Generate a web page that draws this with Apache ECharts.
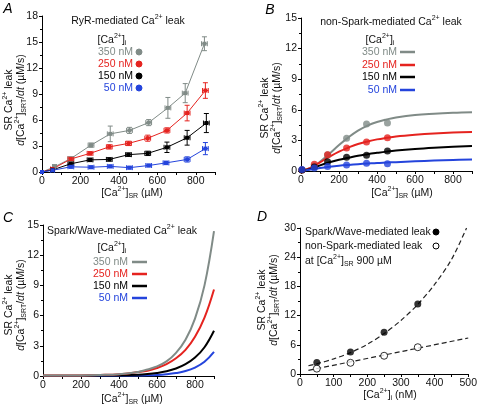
<!DOCTYPE html>
<html><head><meta charset="utf-8">
<script src="https://cdn.jsdelivr.net/npm/echarts@6/dist/echarts.min.js"></script>
<style>html,body{margin:0;padding:0;background:#fff}#c{width:480px;height:407px}</style>
</head><body><div id="c"></div>
<script>
// ---------- Panel A data (RyR-mediated leak) ----------
const aGrayX = [0, 65, 150, 255, 355, 455, 555, 655, 745, 845];
const aGrayY = [0, 0.6, 1.55, 3.1, 4.4, 4.8, 5.7, 7.4, 9.1, 14.8];
const aGrayE = [0, 0.25, 0.2, 0.25, 0.9, 0.35, 0.35, 1.2, 1.1, 0.8];
const aRedX = [0, 55, 150, 250, 350, 450, 550, 650, 755, 850];
const aRedY = [0, 0.35, 1.5, 2.15, 2.9, 3.3, 3.9, 4.8, 6.8, 9.4];
const aRedE = [0, 0.15, 0.2, 0.2, 0.25, 0.25, 0.35, 0.3, 0.9, 0.9];
const aBlackX = [0, 55, 150, 250, 350, 450, 550, 650, 755, 855];
const aBlackY = [0, 0.25, 0.95, 1.4, 1.45, 2.0, 2.15, 2.85, 3.95, 5.65];
const aBlackE = [0, 0.15, 0.2, 0.2, 0.2, 0.2, 0.25, 0.6, 0.85, 1.1];
const aBlueX = [0, 55, 150, 255, 355, 455, 555, 645, 755, 850];
const aBlueY = [0, 0.2, 0.6, 0.55, 0.65, 0.5, 0.75, 1.05, 1.45, 2.7];
const aBlueE = [0, 0.1, 0.15, 0.15, 0.15, 0.15, 0.15, 0.2, 0.3, 0.7];
const aXErr = [0, 10, 15, 15, 15, 15, 15, 15, 15, 15];

// ---------- Panel B data (non-Spark leak) ----------
const bPtX = [5, 70, 140, 240, 345, 455];
const bGrayPts = [0.1, 0.5, 1.6, 3.2, 4.6, 4.7];
const bRedPts = [0.1, 0.65, 1.6, 2.25, 2.85, 3.25];
const bBlackPts = [0.1, 0.4, 0.9, 1.35, 1.55, 1.95];
const bBluePts = [0.15, 0.3, 0.45, 0.6, 0.75, 0.7];
const bFitX = [0, 50, 100, 150, 200, 250, 300, 350, 400, 450, 500, 600, 700, 800, 900];
const bGrayFit = [0, 0.3, 0.9, 1.7, 2.55, 3.3, 3.95, 4.45, 4.8, 5.05, 5.25, 5.5, 5.62, 5.7, 5.75];
const bRedFit = [0, 0.3, 0.85, 1.4, 1.9, 2.3, 2.65, 2.9, 3.1, 3.25, 3.38, 3.55, 3.68, 3.77, 3.82];
const bBlackFit = [0, 0.2, 0.55, 0.85, 1.1, 1.3, 1.5, 1.65, 1.78, 1.9, 2.0, 2.15, 2.27, 2.37, 2.45];
const bBlueFit = [0, 0.15, 0.3, 0.42, 0.52, 0.6, 0.67, 0.73, 0.79, 0.83, 0.87, 0.95, 1.02, 1.08, 1.13];

// ---------- Panel C data (Spark/Wave leak) ----------
const cX = [0, 100, 200, 300, 400, 500, 550, 600, 650, 700, 750, 800, 850, 900];
const cGray = [0.05, 0.05, 0.06, 0.1, 0.18, 0.4, 0.65, 0.95, 1.45, 2.3, 3.6, 5.7, 9.0, 14.4];
const cRed = [0.05, 0.05, 0.06, 0.1, 0.18, 0.39, 0.53, 0.8, 1.18, 1.76, 2.6, 3.9, 5.8, 8.6];
const cBlack = [0.02, 0.02, 0.03, 0.04, 0.06, 0.12, 0.19, 0.3, 0.47, 0.74, 1.17, 1.83, 2.86, 4.5];
const cBlue = [0.01, 0.01, 0.01, 0.02, 0.03, 0.05, 0.07, 0.1, 0.17, 0.29, 0.49, 0.84, 1.41, 2.4];

// ---------- Panel D data ----------
const dX = [50, 150, 250, 350];
const dSpark = [2.35, 4.5, 8.6, 14.4];
const dNonSpark = [1.1, 2.3, 3.75, 5.5];
const dSparkFitX = [25, 50, 100, 150, 200, 250, 300, 350, 400, 450, 495];
const dSparkFitY = [1.7, 2.1, 3.1, 4.4, 6.1, 8.3, 11.0, 14.3, 18.4, 23.5, 30];
const dNonFitX = [25, 500];
const dNonFitY = [0.75, 7.4];

const GRAY = '#808b87', RED = '#e5231f', BLACK = '#000000', BLUE = '#2444dc';
const FONT = 'Liberation Sans, Arial, sans-serif';
const zip = (xs, ys) => xs.map((x, i) => [x, ys[i]]);

const chart = echarts.init(document.getElementById('c'), null, {renderer: 'canvas'});

const grids = [
  {left: 42, top: 16, width: 173, height: 156},
  {left: 301, top: 18, width: 171, height: 153},
  {left: 43, top: 225, width: 171, height: 151},
  {left: 300, top: 228, width: 172, height: 146}
];

function xAxis(i, max, interval, labelEvery) {
  return {
    type: 'value', gridIndex: i, min: 0, max: max, interval: interval,
    axisLine: {lineStyle: {color: '#000', width: 1}},
    axisTick: {show: true, inside: false, length: 3, lineStyle: {color: '#000'}},
    axisLabel: {color: '#111', fontSize: 10.5, fontFamily: FONT, margin: 4,
      formatter: v => (Math.round(v) % labelEvery === 0 ? String(v) : '')},
    splitLine: {show: false}
  };
}
function yAxis(i, max, interval) {
  return {
    type: 'value', gridIndex: i, min: 0, max: max, interval: interval,
    axisLine: {show: true, lineStyle: {color: '#000', width: 1}},
    axisTick: {show: true, inside: false, length: 3, lineStyle: {color: '#000'}},
    minorTick: {show: true, splitNumber: 2, length: 2, lineStyle: {color: '#000'}},
    axisLabel: {color: '#111', fontSize: 10.5, fontFamily: FONT, margin: 4},
    splitLine: {show: false}
  };
}

function errSeries(xs, ys, es, xe, color) {
  const data = xs.map((x, i) => [x, ys[i], es[i], xe[i]]).filter(d => d[2] > 0 || d[3] > 0);
  return {
    type: 'custom', xAxisIndex: 0, yAxisIndex: 0, z: 3, silent: true,
    data: data,
    renderItem: function (params, api) {
      const x = api.value(0), y = api.value(1), e = api.value(2), w = api.value(3);
      const t = api.coord([x, y + e]), b = api.coord([x, y - e]);
      const l = api.coord([x - w, y]), r = api.coord([x + w, y]);
      const cap = 2.5;
      const st = {stroke: color, lineWidth: 1, fill: null};
      const mk = (x1, y1, x2, y2) => ({type: 'line', shape: {x1, y1, x2, y2}, style: st});
      return {type: 'group', children: [
        mk(t[0], t[1], b[0], b[1]),
        mk(t[0] - cap, t[1], t[0] + cap, t[1]),
        mk(b[0] - cap, b[1], b[0] + cap, b[1]),
        mk(l[0], l[1], r[0], r[1]),
        mk(l[0], l[1] - cap, l[0], l[1] + cap),
        mk(r[0], r[1] - cap, r[0], r[1] + cap)
      ]};
    }
  };
}
function lineA(xs, ys, color) {
  return {type: 'line', xAxisIndex: 0, yAxisIndex: 0, data: zip(xs, ys), z: 4,
    symbol: 'rect', symbolSize: 4, showSymbol: true,
    lineStyle: {color: color, width: 1}, itemStyle: {color: color}};
}
function pointsB(ys, color) {
  return {type: 'scatter', xAxisIndex: 1, yAxisIndex: 1, data: zip(bPtX, ys), z: 5,
    symbol: 'circle', symbolSize: 7, itemStyle: {color: color}};
}
function fitLine(idx, xs, ys, color, w) {
  return {type: 'line', xAxisIndex: idx, yAxisIndex: idx, data: zip(xs, ys), smooth: 0.4,
    showSymbol: false, symbol: 'none', z: 4, lineStyle: {color: color, width: w}};
}

const rich = {
  sup: {fontSize: 7, verticalAlign: 'top', lineHeight: 14, fontFamily: FONT},
  sub: {fontSize: 7, verticalAlign: 'bottom', lineHeight: 14, fontFamily: FONT},
  it: {fontStyle: 'italic', fontSize: 10.5, lineHeight: 14, fontFamily: FONT}
};
function txt(x, y, text, opts) {
  opts = opts || {};
  const r = {};
  for (const k in rich) r[k] = Object.assign({}, rich[k], opts.fill ? {color: opts.fill} : {});
  return {type: 'text', x: x, y: y, rotation: opts.rot || 0, z: 100, silent: true,
    style: {text: text, rich: r, fill: opts.fill || '#111',
      fontSize: opts.size || 10.5, fontFamily: FONT, fontStyle: opts.style || 'normal',
      lineHeight: 14,
      align: opts.align || 'center', verticalAlign: opts.va || 'middle'}};
}
function dot(x, y, color, hollow) {
  return {type: 'circle', shape: {cx: x, cy: y, r: 3}, z: 100, silent: true,
    style: {fill: hollow ? '#fff' : color, stroke: color, lineWidth: 1}};
}
function seg(x, y, color) {
  return {type: 'line', shape: {x1: x, y1: y, x2: x + 15, y2: y}, z: 100, silent: true,
    style: {stroke: color, lineWidth: 2.5}};
}

const yTitle1 = 'SR Ca{sup|2+} leak';
const yTitle2 = '{it|d}[Ca{sup|2+}]{sub|SRT}/{it|dt} (µM/s)';
const xTitleSR = '[Ca{sup|2+}]{sub|SR} (µM)';
const cai = '[Ca{sup|2+}]{sub|i}';
const R = Math.PI / 2;

const graphics = [
  // panel letters
  txt(8, 9, 'A', {size: 14, style: 'italic', fill: '#000'}),
  txt(270, 10, 'B', {size: 14, style: 'italic', fill: '#000'}),
  txt(8, 218, 'C', {size: 14, style: 'italic', fill: '#000'}),
  txt(262, 217, 'D', {size: 14, style: 'italic', fill: '#000'}),
  // y titles
  txt(9, 100, yTitle1, {rot: R}), txt(21, 100, yTitle2, {rot: R}),
  txt(265, 108, yTitle1, {rot: R}), txt(277, 108, yTitle2, {rot: R}),
  txt(9, 305, yTitle1, {rot: R}), txt(21, 305, yTitle2, {rot: R}),
  txt(262, 300, yTitle1, {rot: R}), txt(274, 300, yTitle2, {rot: R}),
  // x titles
  txt(132, 193, xTitleSR), txt(402, 193, xTitleSR), txt(132, 399, xTitleSR),
  txt(390, 395, '[Ca{sup|2+}]{sub|i} (nM)'),
  // panel titles
  txt(128, 21, 'RyR-mediated Ca{sup|2+} leak'),
  txt(391, 22, 'non-Spark-mediated Ca{sup|2+} leak'),
  txt(122, 231, 'Spark/Wave-mediated Ca{sup|2+} leak'),
  // legend A
  txt(112, 40, cai),
  txt(133, 52, '350 nM', {align: 'right', fill: GRAY}), dot(139, 52, GRAY),
  txt(133, 64, '250 nM', {align: 'right', fill: RED}), dot(139, 64, RED),
  txt(133, 76, '150 nM', {align: 'right', fill: BLACK}), dot(139, 76, BLACK),
  txt(133, 88, '50 nM', {align: 'right', fill: BLUE}), dot(139, 88, BLUE),
  // legend B
  txt(380, 40, cai),
  txt(397, 52, '350 nM', {align: 'right', fill: GRAY}), seg(400, 52, GRAY),
  txt(397, 65, '250 nM', {align: 'right', fill: RED}), seg(400, 65, RED),
  txt(397, 77, '150 nM', {align: 'right', fill: BLACK}), seg(400, 77, BLACK),
  txt(397, 90, '50 nM', {align: 'right', fill: BLUE}), seg(400, 90, BLUE),
  // legend C
  txt(112, 248, cai),
  txt(128, 262, '350 nM', {align: 'right', fill: GRAY}), seg(132, 262, GRAY),
  txt(128, 274, '250 nM', {align: 'right', fill: RED}), seg(132, 274, RED),
  txt(128, 286, '150 nM', {align: 'right', fill: BLACK}), seg(132, 286, BLACK),
  txt(128, 298, '50 nM', {align: 'right', fill: BLUE}), seg(132, 298, BLUE),
  // legend D
  txt(305, 232, 'Spark/Wave-mediated leak', {align: 'left'}), dot(436, 232, '#000'),
  txt(305, 246, 'non-Spark-mediated leak', {align: 'left'}), dot(436, 246, '#000', true),
  txt(305, 261, 'at [Ca{sup|2+}]{sub|SR} 900 µM', {align: 'left'})
];

const option = {
  animation: false,
  backgroundColor: '#fff',
  grid: grids,
  xAxis: [xAxis(0, 900, 100, 200), xAxis(1, 900, 100, 200), xAxis(2, 900, 100, 200), xAxis(3, 500, 50, 100)],
  yAxis: [yAxis(0, 18, 3), yAxis(1, 15, 3), yAxis(2, 15, 3), yAxis(3, 30, 6)],
  series: [
    // A
    errSeries(aGrayX, aGrayY, aGrayE, aXErr, GRAY),
    errSeries(aRedX, aRedY, aRedE, aXErr, RED),
    errSeries(aBlackX, aBlackY, aBlackE, aXErr, BLACK),
    errSeries(aBlueX, aBlueY, aBlueE, aXErr, BLUE),
    lineA(aGrayX, aGrayY, GRAY), lineA(aRedX, aRedY, RED),
    lineA(aBlackX, aBlackY, BLACK), lineA(aBlueX, aBlueY, BLUE),
    // B
    fitLine(1, bFitX, bGrayFit, GRAY, 2), fitLine(1, bFitX, bRedFit, RED, 2),
    fitLine(1, bFitX, bBlackFit, BLACK, 2), fitLine(1, bFitX, bBlueFit, BLUE, 2),
    pointsB(bGrayPts, GRAY), pointsB(bRedPts, RED), pointsB(bBlackPts, BLACK), pointsB(bBluePts, BLUE),
    // C
    fitLine(2, cX, cBlue, BLUE, 2), fitLine(2, cX, cBlack, BLACK, 2),
    fitLine(2, cX, cRed, RED, 2), fitLine(2, cX, cGray, GRAY, 2),
    // D
    {type: 'line', xAxisIndex: 3, yAxisIndex: 3, data: zip(dSparkFitX, dSparkFitY), smooth: 0.3,
      showSymbol: false, symbol: 'none', lineStyle: {color: '#222', width: 1.2, type: [5, 3]}},
    {type: 'line', xAxisIndex: 3, yAxisIndex: 3, data: zip(dNonFitX, dNonFitY),
      showSymbol: false, symbol: 'none', lineStyle: {color: '#222', width: 1.2, type: [5, 3]}},
    {type: 'scatter', xAxisIndex: 3, yAxisIndex: 3, data: zip(dX, dSpark), symbol: 'circle', symbolSize: 7,
      itemStyle: {color: '#000'}, z: 5},
    {type: 'scatter', xAxisIndex: 3, yAxisIndex: 3, data: zip(dX, dNonSpark), symbol: 'circle', symbolSize: 7,
      itemStyle: {color: '#fff', borderColor: '#000', borderWidth: 1}, z: 5}
  ],
  graphic: graphics
};
chart.setOption(option);
</script></body></html>
